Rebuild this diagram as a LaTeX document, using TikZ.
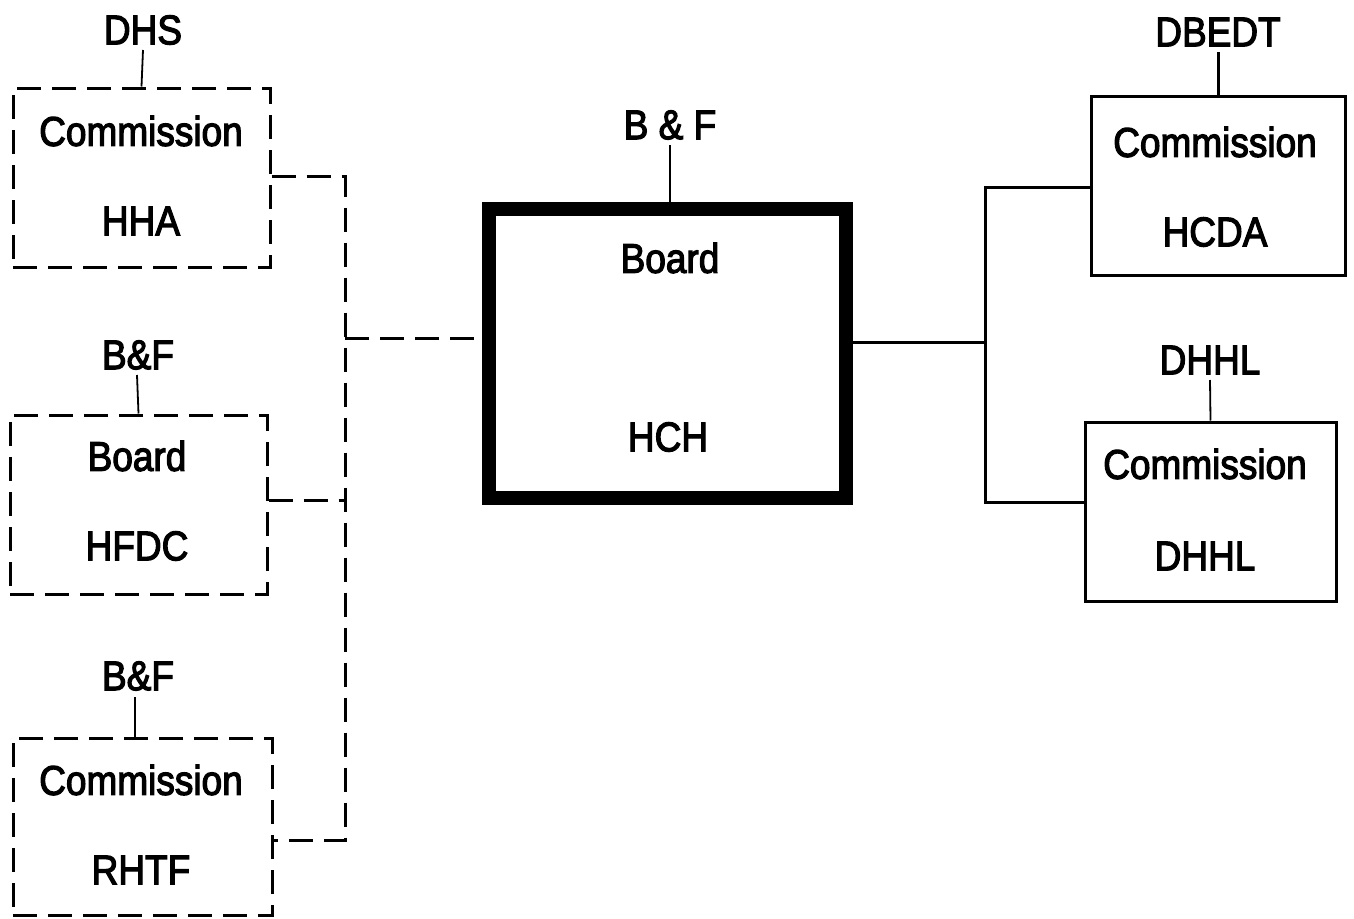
\documentclass[tikz,border=0pt]{standalone}
\usepackage{graphicx}
\usepackage{fontspec}
\setmainfont{Liberation Sans}[FakeBold=3]
\newcommand{\tall}[1]{\scalebox{1}[1.12]{#1}}
\begin{document}
\begin{tikzpicture}[x=1pt,y=-1pt,
  txt/.style={font=\fontsize{37}{40}\selectfont, inner sep=0pt, anchor=center},
  dbox/.style={draw, line width=3pt, dash pattern=on 24pt off 11pt, minimum width=#1, inner sep=0pt},
  sbox/.style={draw, line width=3pt, inner sep=0pt},
  dline/.style={line width=3pt, dash pattern=on 24pt off 11pt},
  sline/.style={line width=3pt},
  stub/.style={line width=1.8pt}]
\useasboundingbox (0,0) rectangle (1354,918);
% left dashed boxes
\node[dbox=257pt, minimum height=179pt] (hha) at (141.5,177.5) {};
\node[dbox=257pt, minimum height=179pt] (hfdc) at (138.5,504.5) {};
\node[dbox=259pt, minimum height=177pt] (rhtf) at (142.5,826.5) {};
\node[txt] (hhac) at (141,131) {\tall{Commission}};
\node[txt] (hhan) at (141,221) {\tall{HHA}};
\node[txt] (hfdcb) at (137,456) {\tall{Board}};
\node[txt] (hfdcn) at (137,546) {\tall{HFDC}};
\node[txt] (rhtfc) at (141,780) {\tall{Commission}};
\node[txt] (rhtfn) at (141,870) {\tall{RHTF}};
\node[txt] (dhs) at (143,30) {\tall{DHS}};
\node[txt] (bf1) at (138,355) {\tall{B\&F}};
\node[txt] (bf2) at (138,676) {\tall{B\&F}};
\draw[stub] (143,50) -- (hha.north);
\draw[stub] (137,375) -- (hfdc.north);
\draw[stub] (135,697) -- (135,738);
% central box
\node[draw, line width=14pt, minimum width=357pt, minimum height=289pt, inner sep=0pt] (hch) at (667.5,353.5) {};
\node[txt] (hchb) at (670,258) {\tall{Board}};
\node[txt] (hchn) at (668,437) {\tall{HCH}};
\node[txt] (bf3) at (670,125) {\tall{B \& F}};
\draw[stub] (670,145) -- (670,202);
% right boxes
\node[sbox, minimum width=254pt, minimum height=179pt] (hcda) at (1218,185.5) {};
\node[sbox, minimum width=251pt, minimum height=179pt] (dhhl) at (1210.5,511.5) {};
\node[txt] (hcdac) at (1215,142) {\tall{Commission}};
\node[txt] (hcdan) at (1215,232) {\tall{HCDA}};
\node[txt] (dhhlc) at (1205,464) {\tall{Commission}};
\node[txt] (dhhln) at (1205,556) {\tall{DHHL}};
\node[txt] (dbedt) at (1218,32) {\tall{DBEDT}};
\node[txt] (dhhll) at (1210,360) {\tall{DHHL}};
\draw[sline] (1218,52) -- (hcda.north);
\draw[stub] (1210,380) -- (dhhl.north);
% connectors left
\coordinate (jl) at (345,338);
\draw[dline] (hha.east |- 0,176) -- (345,176) -- (345,840) -- (rhtf.east |- 0,840);
\draw[dline] (hfdc.east |- 0,500) -- (345,500);
\draw[dline] (jl) -- (hch.west |- jl);
% connectors right
\coordinate (jr) at (985,342);
\draw[sline] (hch.east |- jr) -- (jr);
\draw[sline] (hcda.west |- 0,187) -- (985,187) -- (985,502) -- (dhhl.west |- 0,502);
\end{tikzpicture}
\end{document}
